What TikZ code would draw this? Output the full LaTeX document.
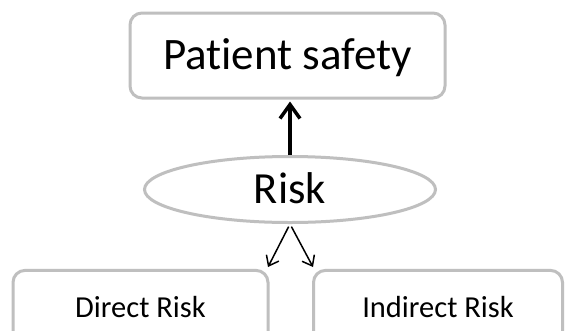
\documentclass[tikz,border=0pt]{standalone}
\usepackage{fontspec}
\setmainfont[Ligatures=NoCommon]{Carlito}
\usetikzlibrary{arrows.meta,shapes.geometric}
\definecolor{boxgray}{HTML}{BFBFBF}
\begin{document}
\begin{tikzpicture}[x=1pt,y=-1pt,
  boxst/.style={draw=boxgray,line width=3pt,rounded corners=12pt,inner sep=0pt,
    text depth=0pt,fill=white},
  ellst/.style={ellipse,draw=boxgray,line width=3pt,inner sep=0pt,text depth=0pt},
  bigarrow/.style={line width=3.5pt,-{Straight Barb[length=14pt,width=20pt,line width=3.5pt]}},
  thinarrow/.style={line width=1.5pt,-{Straight Barb[length=9pt,width=14pt,line width=1.5pt]}}]
\useasboundingbox (0,0) rectangle (567,330);
\clip (0,0) rectangle (567,330);
\fill[white] (0,0) rectangle (567,330);
\node[boxst,minimum width=315pt,minimum height=85pt,text height=28.4pt,font=\fontsize{45}{54}\selectfont] (ps) at (287.5,55.5) {Patient safety};
\node[ellst,minimum width=291pt,minimum height=66pt,text height=28.1pt,font=\fontsize{44.5}{53}\selectfont] (risk) at (290,189.5) {Risk};
\node[boxst,minimum width=255pt,minimum height=74pt,text height=19.3pt,font=\fontsize{30.5}{36}\selectfont] (direct) at (140.5,307.4) {Direct Risk};
\node[boxst,minimum width=249pt,minimum height=74pt,text height=19.3pt,font=\fontsize{30.5}{36}\selectfont] (indirect) at (438,307.4) {Indirect Risk};
\coordinate (dl) at (268,267);
\coordinate (dr) at (313,267);
\draw[bigarrow,shorten >=2pt] (risk.north) -- (risk.north |- ps.south);
\draw[thinarrow,shorten <=3pt] (risk.south) -- (dl);
\draw[thinarrow,shorten <=3pt] (risk.south) -- (dr);
\end{tikzpicture}
\end{document}
